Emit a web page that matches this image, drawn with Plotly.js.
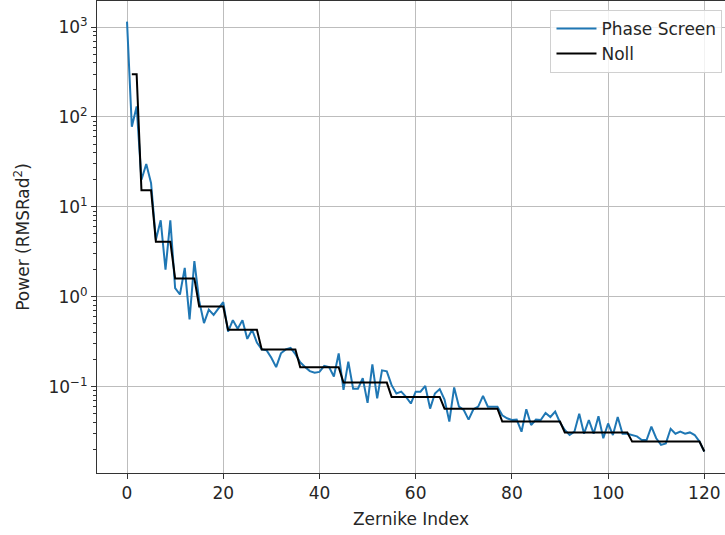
<!DOCTYPE html>
<html>
<head>
<meta charset="utf-8">
<script src="https://cdn.plot.ly/plotly-3.0.1.min.js"></script>
<style>
  html, body { margin: 0; padding: 0; background: #ffffff; }
  #chart { width: 725px; height: 535px; }
</style>
</head>
<body>
<div id="chart"></div>
<script>
// Zernike mode index (0 = piston)
const zernikeIndex = [];
for (let i = 0; i <= 120; i++) zernikeIndex.push(i);

// Measured power per mode from the phase screen
const phaseScreenPower = [
  1150, 78, 131, 20, 30, 18.4, 4.3, 7.1, 2.0, 7.1,
  1.25, 1.06, 2.1, 0.56, 2.5, 0.9, 0.51, 0.72, 0.63, 0.75,
  0.87, 0.41, 0.55, 0.44, 0.55, 0.34, 0.43, 0.31, 0.26, 0.255,
  0.21, 0.165, 0.235, 0.26, 0.27, 0.23, 0.187, 0.166, 0.149, 0.143,
  0.146, 0.17, 0.165, 0.13, 0.235, 0.092, 0.19, 0.095, 0.095, 0.124,
  0.066, 0.177, 0.074, 0.152, 0.148, 0.104, 0.084, 0.088, 0.077, 0.065,
  0.088, 0.088, 0.102, 0.057, 0.084, 0.094, 0.072, 0.041, 0.098, 0.060,
  0.055, 0.043, 0.056, 0.060, 0.079, 0.060, 0.060, 0.060, 0.048, 0.0445,
  0.0426, 0.043, 0.0316, 0.056, 0.0375, 0.043, 0.0426, 0.051, 0.046, 0.053,
  0.040, 0.033, 0.029, 0.0316, 0.050, 0.030, 0.0426, 0.030, 0.047, 0.0267,
  0.039, 0.029, 0.046, 0.030, 0.030, 0.029, 0.028, 0.0255, 0.0255, 0.036,
  0.0267, 0.0225, 0.0234, 0.034, 0.030, 0.0316, 0.030, 0.031, 0.029, 0.0245,
  0.019
];

// Noll (Kolmogorov) expected variance, one value per mode from index 1
const nollIndex = zernikeIndex.slice(1);
const nollPower = [
  299, 299,
  15.3, 15.3, 15.3,
  4.1, 4.1, 4.1, 4.1,
  1.6, 1.6, 1.6, 1.6, 1.6,
  0.78, 0.78, 0.78, 0.78, 0.78, 0.78,
  0.43, 0.43, 0.43, 0.43, 0.43, 0.43, 0.43,
  0.26, 0.26, 0.26, 0.26, 0.26, 0.26, 0.26, 0.26,
  0.165, 0.165, 0.165, 0.165, 0.165, 0.165, 0.165, 0.165, 0.165,
  0.111, 0.111, 0.111, 0.111, 0.111, 0.111, 0.111, 0.111, 0.111, 0.111,
  0.077, 0.077, 0.077, 0.077, 0.077, 0.077, 0.077, 0.077, 0.077, 0.077, 0.077,
  0.057, 0.057, 0.057, 0.057, 0.057, 0.057, 0.057, 0.057, 0.057, 0.057, 0.057, 0.057,
  0.041, 0.041, 0.041, 0.041, 0.041, 0.041, 0.041, 0.041, 0.041, 0.041, 0.041, 0.041, 0.041,
  0.031, 0.031, 0.031, 0.031, 0.031, 0.031, 0.031, 0.031, 0.031, 0.031, 0.031, 0.031, 0.031, 0.031,
  0.0245, 0.0245, 0.0245, 0.0245, 0.0245, 0.0245, 0.0245, 0.0245, 0.0245, 0.0245, 0.0245, 0.0245, 0.0245, 0.0245, 0.0245,
  0.019
];

// Axis ticks
const xTicks = [0, 20, 40, 60, 80, 100, 120];
const yTickVals = [0.1, 1, 10, 100, 1000];
const yTickText = ['10<sup>−1</sup>', '10<sup>0</sup>', '10<sup>1</sup>', '10<sup>2</sup>', '10<sup>3</sup>'];

// Minor log ticks (2..9 within each decade)
const yMinorTicks = [];
[0.01, 0.1, 1, 10, 100, 1000].forEach(function (d) {
  for (let k = 2; k <= 9; k++) yMinorTicks.push(d * k);
});

const fontFamily = 'DejaVu Sans, sans-serif';
const textColor = '#262626';
const fontSize = 17;

const traces = [
  {
    x: zernikeIndex, y: phaseScreenPower, name: 'Phase Screen',
    type: 'scatter', mode: 'lines',
    line: { color: '#1f77b4', width: 2 }
  },
  {
    x: nollIndex, y: nollPower, name: 'Noll',
    type: 'scatter', mode: 'lines',
    line: { color: '#000000', width: 2 }
  }
];

const layout = {
  width: 725, height: 535,
  margin: { l: 97, r: 0, t: 1, b: 62 },
  paper_bgcolor: '#ffffff', plot_bgcolor: '#ffffff',
  font: { family: fontFamily, size: fontSize, color: textColor },
  showlegend: true,
  legend: {
    x: 0.996, y: 0.981, xanchor: 'right', yanchor: 'top',
    bgcolor: 'rgba(255,255,255,0.8)', bordercolor: '#d0d0d0', borderwidth: 1,
    font: { family: fontFamily, size: fontSize, color: textColor },
    itemwidth: 40,
    tracegroupgap: 0
  },
  xaxis: {
    range: [-6.24, 124.3],
    tickvals: xTicks,
    ticks: 'outside', ticklen: 5, tickwidth: 1, tickcolor: '#333',
    showgrid: true, gridcolor: '#bdbdbd', gridwidth: 1,
    zeroline: false,
    showline: true, linecolor: '#333', linewidth: 1, mirror: true,
    title: { text: 'Zernike Index', font: { family: fontFamily, size: fontSize, color: textColor }, standoff: 10 },
    tickfont: { family: fontFamily, size: fontSize, color: textColor }
  },
  yaxis: {
    type: 'log',
    range: [-1.96, 3.29],
    tickvals: yTickVals, ticktext: yTickText,
    ticks: 'outside', ticklen: 5, tickwidth: 1, tickcolor: '#333',
    minor: { tickvals: yMinorTicks, ticks: 'outside', ticklen: 3, tickwidth: 1, tickcolor: '#333', showgrid: false },
    showgrid: true, gridcolor: '#bdbdbd', gridwidth: 1,
    zeroline: false,
    showline: true, linecolor: '#333', linewidth: 1, mirror: false,
    title: { text: 'Power (RMSRad<sup>2</sup>)', font: { family: fontFamily, size: fontSize, color: textColor }, standoff: 14 },
    tickfont: { family: fontFamily, size: fontSize, color: textColor }
  }
};

Plotly.newPlot('chart', traces, layout, { displayModeBar: false, staticPlot: true });
</script>
</body>
</html>
